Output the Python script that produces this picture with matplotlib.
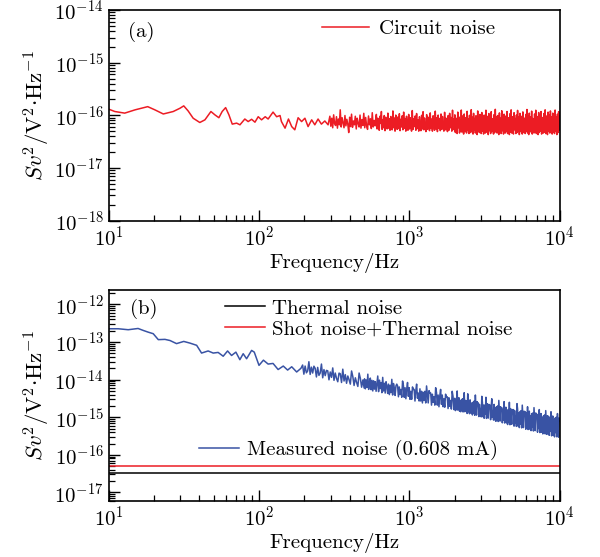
import numpy as np
import matplotlib
matplotlib.use("Agg")
import matplotlib.pyplot as plt
from matplotlib.lines import Line2D
from matplotlib.ticker import LogLocator

plt.rcParams['font.family'] = ['cmr10', 'DejaVu Serif']
plt.rcParams['mathtext.fontset'] = 'cm'
plt.rcParams['axes.formatter.use_mathtext'] = True
plt.rcParams['axes.unicode_minus'] = False

# ---- panel (a): circuit noise, low-frequency part read point by point
circ_f_low = [10, 11.0, 12.8, 15.0, 18.2, 20.3, 23.1, 26.9, 29.8, 31.6, 33.8, 36.5, 40.4, 43.7,
              47.9, 50.9, 54.1, 56.9, 60, 63.1, 66.4, 71, 74.7, 80.5, 84.7, 89.3, 94, 98.8,
              104, 110, 115, 124, 131, 138, 141, 149, 157, 165, 173, 182, 192, 202, 212, 224,
              235, 247, 260, 274, 288]
circ_v_low = [1.31e-16, 1.18e-16, 1.10e-16, 1.27e-16, 1.46e-16, 1.27e-16, 1.06e-16, 1.18e-16,
              1.36e-16, 1.51e-16, 1.21e-16, 8.8e-17, 7.3e-17, 8.2e-17, 1.18e-16, 1.02e-16,
              9.0e-17, 1.18e-16, 1.40e-16, 1.02e-16, 6.8e-17, 7.1e-17, 6.6e-17, 8.5e-17,
              7.6e-17, 8.4e-17, 7.4e-17, 9.4e-17, 8.2e-17, 9.4e-17, 8.5e-17, 1.15e-16, 9.4e-17,
              9.9e-17, 7.6e-17, 5.7e-17, 8.5e-17, 6.1e-17, 5.3e-17, 9.0e-17, 7.6e-17, 8.8e-17,
              6.1e-17, 8.2e-17, 6.6e-17, 8.5e-17, 6.8e-17, 7.8e-17, 6.6e-17]

# dense part of circuit noise (units of 1e-18)
circ_seg1 = [96, 62, 88, 58, 102, 70, 64, 94, 57, 85, 66, 127, 60, 90, 72, 58, 99, 63, 84, 68,
             47, 92, 61, 105, 59, 78, 66, 96, 55, 88, 70, 60, 101, 57, 83, 64, 109, 58, 91, 62,
             54, 97, 66, 86, 56, 112, 60, 80, 63, 95]
circ_seg2 = [104, 55, 88, 61, 52, 96, 70, 118, 54, 83, 58, 99, 51, 92, 64, 55, 110, 57, 86, 52,
             95, 66, 53, 121, 58, 89, 50, 101, 62, 54, 93, 56, 107, 51, 84, 60, 98, 53, 115, 57,
             87, 50, 96, 63, 52, 104, 55, 90, 59, 50, 123, 54, 86, 61, 97, 52, 108, 56, 82, 50,
             94, 65, 51, 100, 55, 117, 53, 89, 58, 49, 103, 54, 92, 60, 51, 111, 56, 85, 50, 98,
             62, 52, 120, 55, 90, 49, 101, 57, 87, 51, 106, 54, 95, 60, 50, 114, 53, 88, 56, 49,
             99, 52, 109, 58, 91, 50, 125, 54, 86, 51]
circ_seg3 = [102, 47, 88, 52, 45, 115, 58, 93, 46, 81, 50, 126, 48, 97, 55, 44, 106, 49, 90, 53,
             46, 119, 51, 85, 45, 100, 57, 47, 128, 50, 92, 44, 109, 52, 87, 46, 98, 55, 43, 121,
             49, 94, 47, 104, 54, 45, 113, 50, 89, 44, 101, 58, 46, 125, 48, 96, 52, 43, 108, 51,
             91, 45, 117, 49, 86, 55, 44, 103, 47, 130, 50, 93, 46, 99, 53, 43, 111, 48, 88, 45,
             122, 51, 95, 44, 105, 56, 46, 97, 49, 118, 45, 90, 52, 43, 107, 48, 127, 46, 94, 50,
             44, 112, 53, 87, 45, 101, 47, 124, 51, 92, 43, 109, 49, 96, 55, 44, 116, 47, 89, 52,
             45, 104, 50, 129, 46, 98, 43, 110, 51, 93, 48, 120, 44, 87, 53, 46, 106, 49, 125, 45,
             95, 52, 43, 113, 47, 100, 50, 118, 44, 91, 55, 46, 108, 48, 127, 45, 97, 51, 43, 115,
             49, 102, 46, 121, 53, 94, 44, 110, 48, 99, 45, 126, 50, 92, 43, 105, 47, 117, 52, 96]

# ---- panel (b): measured noise, low-frequency part
meas_f_low = [10, 11.6, 13.5, 15.7, 17, 18.3, 19.8, 21.4, 23.7, 25.6, 28.3, 31.6, 34.7, 38.5,
              41.5, 45.9, 49.6, 53.5, 57.8, 61.8, 65.7, 70.2, 74.6, 78.5, 82.7, 89.3, 93, 100,
              107, 115, 124, 134, 145, 155, 165, 178, 190]
meas_v_low = [2.26e-13, 2.26e-13, 2.13e-13, 2.3e-13, 2.04e-13, 1.84e-13, 1.67e-13, 1.16e-13,
              1.18e-13, 1.1e-13, 9.1e-14, 1.04e-13, 9.4e-14, 8.2e-14, 5.1e-14, 5.8e-14, 5.1e-14,
              5.3e-14, 4.2e-14, 5.8e-14, 4.4e-14, 5.4e-14, 3.4e-14, 4.9e-14, 3.6e-14, 6.0e-14,
              5.4e-14, 2.4e-14, 3.3e-14, 2.6e-14, 2.7e-14, 1.86e-14, 2.3e-14, 1.8e-14, 2.2e-14,
              1.6e-14, 2.0e-14]

# dense part of measured noise (units of 1e-16)
meas_seg1 = [245, 140, 230, 152, 170, 300, 138, 215, 150, 228,
             200, 118, 212, 130, 150, 260, 112, 185, 128, 176,
             172, 99, 160, 115, 205, 96, 150, 108, 88, 149,
             144, 84, 190, 92, 136, 80, 125, 100, 76, 170,
             120, 70, 112, 84, 66, 150, 108, 63, 98, 60]
meas_seg2 = [105, 57, 98, 62, 140, 55, 84, 110, 54, 96,
             50, 93, 56, 88, 49, 76, 125, 48, 97, 58,
             84, 45, 115, 50, 80, 44, 88, 68, 43, 76,
             40, 71, 45, 102, 39, 79, 61, 38, 68, 76,
             68, 35, 64, 40, 55, 34, 92, 71, 34, 61,
             31, 57, 84, 36, 61, 30, 49, 30, 64, 55,
             55, 27, 51, 76, 32, 44, 27, 57, 27, 49,
             24, 46, 28, 49, 24, 68, 39, 24, 51, 44,
             44, 21, 41, 25, 35, 21, 61, 46, 21, 39,
             19, 37, 55, 22, 39, 19, 31, 18.5, 41, 35,
             35, 17, 33, 19.5, 28, 16.5, 49, 36, 16, 31]
meas_seg3 = [32, 15, 29, 16, 50, 15.5, 24, 33, 14.5, 27,
             14, 29, 16, 31, 13.8, 22, 45, 14, 28, 15,
             27, 12.6, 42, 14, 26, 12.4, 29, 20, 12.8, 24,
             11.5, 25, 13, 27, 11.3, 39, 19, 11.4, 26, 22,
             24, 10.4, 22, 12, 17, 10.2, 36, 25, 10.3, 21,
             9.4, 21, 12, 34, 9.3, 23, 16, 9.5, 22, 19,
             21, 8.6, 19, 31, 10, 15, 8.4, 22, 8.5, 18,
             7.8, 19, 9, 20, 7.7, 28, 14, 7.9, 19, 16,
             18, 7.1, 16, 8.4, 26, 7.0, 13, 18.5, 7.1, 15,
             6.4, 16, 7.6, 25, 6.3, 17, 12, 6.5, 16, 14,
             16, 5.8, 15, 7, 11, 5.7, 23, 16.5, 5.8, 13,
             5.3, 14, 6.5, 15, 5.2, 21, 10, 5.3, 14.5, 12,
             14, 4.8, 13, 6, 19, 4.7, 9.5, 14.5, 4.8, 11,
             4.4, 12.5, 5.5, 13, 4.3, 18, 8.5, 4.4, 13, 10,
             12, 4.0, 11, 5, 16, 3.9, 8, 12.5, 4.0, 9.5,
             3.6, 10.8, 4.6, 11.5, 3.6, 15, 7.5, 3.5, 11, 9,
             10.5, 3.3, 9.5, 4.2, 14, 3.2, 7, 10.8, 3.3, 8.5,
             3.0, 9.5, 3.9, 10, 3.0, 12.5, 6.5, 2.95, 9.6, 8]

thermal_level = 3.2e-17
shot_thermal_level = 5.0e-17


def dense_freqs(edges, seg_lists):
    # frequency bins of the dense FFT segments
    out = [np.geomspace(lo, hi, len(vals)) for (lo, hi), vals in zip(edges, seg_lists)]
    return np.concatenate(out)


circ_f = np.concatenate([circ_f_low,
                         dense_freqs([(296, 600), (603, 2000), (2005, 10000)],
                                     [circ_seg1, circ_seg2, circ_seg3])])
circ_v = np.concatenate([circ_v_low, np.array(circ_seg1 + circ_seg2 + circ_seg3) * 1e-18])

meas_f = np.concatenate([meas_f_low,
                         dense_freqs([(195, 500), (503, 2000), (2005, 10000)],
                                     [meas_seg1, meas_seg2, meas_seg3])])
meas_v = np.concatenate([meas_v_low, np.array(meas_seg1 + meas_seg2 + meas_seg3) * 1e-16])

red = '#ec1c24'
blue = '#3953a4'
ylab = r'$Sv^2/\mathrm{V}^2{\cdot}\mathrm{Hz}^{-1}$'
fs = 15

fig = plt.figure(figsize=(6.0, 5.57), dpi=100)
ax1 = fig.add_axes([0.181, 0.604, 0.752, 0.378])
ax2 = fig.add_axes([0.181, 0.101, 0.752, 0.378])


def style(ax):
    ax.set_xscale('log')
    ax.set_yscale('log')
    ax.set_xlim(10, 1e4)
    ax.yaxis.set_major_locator(LogLocator(base=10, numticks=20))
    ax.yaxis.set_minor_locator(LogLocator(base=10, subs=np.arange(2, 10), numticks=20))
    ax.tick_params(which='both', direction='in', top=False, right=False, labelsize=fs)
    ax.tick_params(which='major', length=8, width=1)
    ax.tick_params(which='minor', length=4.5, width=0.9)
    for s in ax.spines.values():
        s.set_linewidth(1.2)
    ax.set_xlabel('Frequency/Hz', fontsize=fs, labelpad=2)
    ax.set_ylabel(ylab, fontsize=16.5, labelpad=2)


# (a)
ax1.plot(circ_f, circ_v, color=red, lw=1.1, label='Circuit noise')
style(ax1)
ax1.set_ylim(1e-18, 1e-14)
ax1.text(0.043, 0.896, '(a)', transform=ax1.transAxes, fontsize=fs, va='center')
ax1.legend(loc='upper left', bbox_to_anchor=(0.473, 0.955), frameon=False, fontsize=fs,
           borderpad=0, borderaxespad=0, handlelength=2.26, handletextpad=0.48)

# (b)
ax2.plot(meas_f, meas_v, color=blue, lw=1.1)
ax2.axhline(thermal_level, color='black', lw=1.1)
ax2.axhline(shot_thermal_level, color=red, lw=1.1)
style(ax2)
ax2.set_ylim(6e-18, 2.4e-12)
ax2.text(0.047, 0.91, '(b)', transform=ax2.transAxes, fontsize=fs, va='center')

h_top = [Line2D([], [], color='black', lw=1.1), Line2D([], [], color=red, lw=1.1)]
leg1 = ax2.legend(h_top, ['Thermal noise', 'Shot noise+Thermal noise'],
                  loc='upper left', bbox_to_anchor=(0.258, 0.958), frameon=False, fontsize=fs,
                  borderpad=0, borderaxespad=0, handlelength=1.92, handletextpad=0.34,
                  labelspacing=0.1)
ax2.add_artist(leg1)
h_meas = [Line2D([], [], color=blue, lw=1.1)]
ax2.legend(h_meas, ['Measured noise (0.608 mA)'], loc='upper left',
           bbox_to_anchor=(0.2, 0.288), frameon=False, fontsize=fs,
           borderpad=0, borderaxespad=0, handlelength=1.92, handletextpad=0.38)

fig.savefig('out.png', dpi=100)
